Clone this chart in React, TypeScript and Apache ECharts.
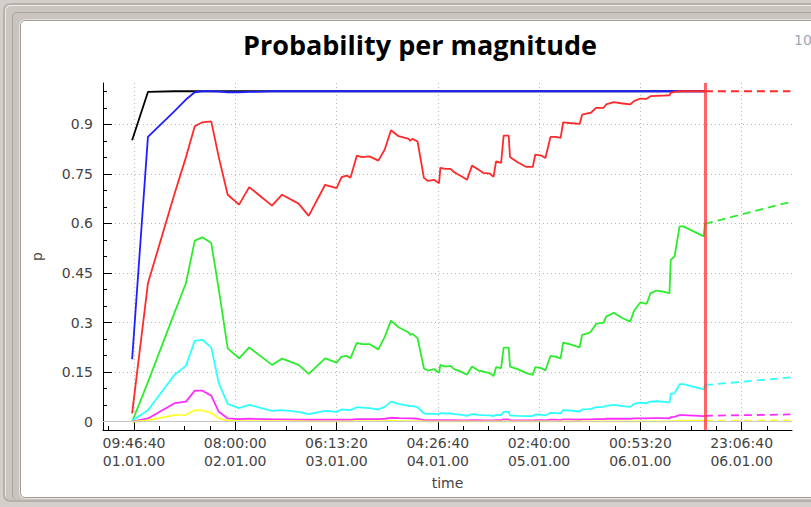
import React, { useEffect, useRef } from "react";
import * as echarts from "echarts";

// time in thousands of seconds after 09:46:40 01.01.00
const times = [
  -1.5, 11, 32, 41, 48, 54, 61, 67, 74, 83,
  91, 109, 117, 130, 138, 151, 160, 164, 168, 171,
  176, 180, 186, 193, 198, 203, 209, 217, 218, 220,
  224, 229, 232, 237, 241, 242, 246, 250, 253, 259,
  263, 267, 272, 276, 281, 284, 286, 290, 292, 296,
  297, 303, 310, 315, 317, 322, 325, 329, 333, 337,
  339, 344, 352, 354, 359, 361, 365, 371, 373, 379,
  386, 392, 395, 400, 405, 408, 413, 418, 423, 424,
  427, 431, 434, 450, 451,
];

const pBlack = [
  0.852, 0.998, 1, 1, 1, 1, 1, 1, 1, 1,
  1, 1, 1, 1, 1, 1, 1, 1, 1, 1,
  1, 1, 1, 1, 1, 1, 1, 1, 1, 1,
  1, 1, 1, 1, 1, 1, 1, 1, 1, 1,
  1, 1, 1, 1, 1, 1, 1, 1, 1, 1,
  1, 1, 1, 1, 1, 1, 1, 1, 1, 1,
  1, 1, 1, 1, 1, 1, 1, 1, 1, 1,
  1, 1, 1, 1, 1, 1, 1, 1, 1, 1,
  1, 1, 1, 1, 1,
];

const pBlue = [
  0.189, 0.862, 0.94, 0.975, 0.997, 1, 1, 0.999, 0.997, 0.997,
  0.998, 1, 1, 1, 1, 1, 1, 1, 1, 1,
  1, 1, 1, 1, 1, 1, 1, 1, 1, 1,
  1, 1, 1, 1, 1, 1, 1, 1, 1, 1,
  1, 1, 1, 1, 1, 1, 1, 1, 1, 1,
  1, 1, 1, 1, 1, 1, 1, 1, 1, 1,
  1, 1, 1, 1, 1, 1, 1, 1, 1, 1,
  1, 1, 1, 1, 1, 1, 1, 1, 1, 1,
  1, 1, 1, 1, 1,
];

const pRed = [
  0.025, 0.419, 0.69, 0.8, 0.894, 0.906, 0.909, 0.8, 0.687, 0.657,
  0.71, 0.654, 0.687, 0.66, 0.623, 0.717, 0.707, 0.74, 0.745, 0.738,
  0.805, 0.801, 0.803, 0.79, 0.823, 0.882, 0.864, 0.856, 0.85, 0.856,
  0.848, 0.738, 0.729, 0.732, 0.722, 0.768, 0.765, 0.765, 0.755, 0.742,
  0.732, 0.775, 0.763, 0.753, 0.751, 0.741, 0.788, 0.783, 0.866, 0.866,
  0.801, 0.785, 0.771, 0.771, 0.808, 0.805, 0.798, 0.862, 0.862, 0.859,
  0.906, 0.904, 0.901, 0.929, 0.934, 0.935, 0.95, 0.95, 0.96, 0.967,
  0.963, 0.96, 0.97, 0.978, 0.977, 0.985, 0.986, 0.987, 0.988, 0.995,
  0.998, 1, 1, 1, 1,
];

const pGreen = [
  0, 0.12, 0.33, 0.419, 0.548, 0.558, 0.541, 0.4, 0.222, 0.192,
  0.225, 0.172, 0.191, 0.172, 0.145, 0.192, 0.179, 0.197, 0.199, 0.192,
  0.239, 0.235, 0.235, 0.219, 0.256, 0.306, 0.286, 0.27, 0.263, 0.266,
  0.253, 0.162, 0.155, 0.159, 0.148, 0.172, 0.167, 0.169, 0.159, 0.15,
  0.142, 0.167, 0.155, 0.152, 0.147, 0.138, 0.165, 0.162, 0.224, 0.224,
  0.167, 0.159, 0.147, 0.142, 0.165, 0.162, 0.155, 0.199, 0.197, 0.192,
  0.239, 0.235, 0.225, 0.263, 0.268, 0.273, 0.296, 0.3, 0.318, 0.33,
  0.313, 0.303, 0.336, 0.361, 0.357, 0.389, 0.397, 0.394, 0.389, 0.49,
  0.5, 0.591, 0.591, 0.561, 0.599,
];

const pCyan = [
  0.003, 0.035, 0.142, 0.169, 0.245, 0.248, 0.225, 0.116, 0.054, 0.041,
  0.051, 0.033, 0.035, 0.03, 0.023, 0.033, 0.03, 0.037, 0.036, 0.035,
  0.044, 0.043, 0.041, 0.037, 0.045, 0.061, 0.054, 0.048, 0.047, 0.047,
  0.044, 0.025, 0.024, 0.024, 0.023, 0.026, 0.025, 0.025, 0.023, 0.021,
  0.018, 0.023, 0.021, 0.02, 0.019, 0.017, 0.021, 0.02, 0.03, 0.03,
  0.019, 0.018, 0.017, 0.017, 0.022, 0.021, 0.019, 0.027, 0.026, 0.025,
  0.035, 0.034, 0.031, 0.037, 0.038, 0.039, 0.044, 0.045, 0.048, 0.051,
  0.047, 0.045, 0.054, 0.058, 0.056, 0.061, 0.062, 0.061, 0.058, 0.084,
  0.086, 0.114, 0.114, 0.098, 0.111,
];

const pMagenta = [
  0, 0.01, 0.056, 0.061, 0.094, 0.094, 0.079, 0.03, 0.01, 0.008,
  0.009, 0.007, 0.007, 0.006, 0.006, 0.006, 0.006, 0.006, 0.006, 0.006,
  0.008, 0.008, 0.008, 0.008, 0.009, 0.012, 0.011, 0.01, 0.01, 0.01,
  0.009, 0.005, 0.005, 0.005, 0.005, 0.005, 0.005, 0.005, 0.005, 0.004,
  0.004, 0.005, 0.005, 0.004, 0.004, 0.004, 0.005, 0.005, 0.007, 0.007,
  0.004, 0.004, 0.004, 0.004, 0.005, 0.005, 0.004, 0.006, 0.006, 0.005,
  0.007, 0.007, 0.006, 0.007, 0.007, 0.007, 0.008, 0.008, 0.009, 0.009,
  0.009, 0.009, 0.01, 0.01, 0.01, 0.011, 0.011, 0.011, 0.01, 0.014,
  0.015, 0.02, 0.02, 0.017, 0.018,
];

const pYellow = [
  0, 0.004, 0.02, 0.021, 0.035, 0.034, 0.027, 0.01, 0.003, 0.002,
  0.002, 0.002, 0.002, 0.002, 0.001, 0.001, 0.001, 0.001, 0.001, 0.001,
  0.002, 0.002, 0.002, 0.002, 0.002, 0.003, 0.002, 0.002, 0.002, 0.002,
  0.002, 0.001, 0.001, 0.001, 0.001, 0.001, 0.001, 0.001, 0.001, 0.001,
  0.001, 0.001, 0.001, 0.001, 0.001, 0.001, 0.001, 0.001, 0.001, 0.001,
  0.001, 0.001, 0.001, 0.001, 0.001, 0.001, 0.001, 0.001, 0.001, 0.001,
  0.001, 0.001, 0.001, 0.001, 0.001, 0.001, 0.001, 0.001, 0.001, 0.001,
  0.001, 0.001, 0.001, 0.001, 0.001, 0.001, 0.001, 0.001, 0.001, 0.002,
  0.002, 0.003, 0.003, 0.003, 0.003,
];

// extrapolation after "now" (black and blue stay at 1, hidden under red)
const forecastTimes = [451, 518.5];
const fRed = [1, 1];
const fGreen = [0.599, 0.665];
const fCyan = [0.111, 0.134];
const fMagenta = [0.018, 0.022];
const fYellow = [0.003, 0.004];

const nowTime = 451;

const xMajorTicks = [0, 80, 160, 240, 320, 400, 480];
const xMinorTicks = [-20, 0, 20, 40, 60, 80, 100, 120, 140, 160, 180, 200, 220, 240, 260, 280, 300, 320, 340, 360, 380, 400, 420, 440, 460, 480, 500];
const yMajorTicks = [0, 0.15, 0.3, 0.45, 0.6, 0.75, 0.9];
const yMinorTicks = [0, 0.05, 0.1, 0.15, 0.2, 0.25, 0.3, 0.35, 0.4, 0.45, 0.5, 0.55, 0.6, 0.65, 0.7, 0.75, 0.8, 0.85, 0.9, 0.95, 1.0];

const startClockSeconds = 35200; // 09:46:40

const seriesDefs = [
  { name: "black", color: "#000000", values: pBlack, forecast: null as number[] | null },
  { name: "blue", color: "#2020ff", values: pBlue, forecast: null as number[] | null },
  { name: "red", color: "#ff2a2a", values: pRed, forecast: fRed },
  { name: "green", color: "#2ced2c", values: pGreen, forecast: fGreen },
  { name: "cyan", color: "#2effff", values: pCyan, forecast: fCyan },
  { name: "magenta", color: "#ff2eff", values: pMagenta, forecast: fMagenta },
  { name: "yellow", color: "#ffff2e", values: pYellow, forecast: fYellow },
];

const pad = (n: number) => String(n).padStart(2, "0");
const fmtTime = (v: number) => {
  const s = Math.round(v * 1000) + startClockSeconds;
  const day = Math.floor(s / 86400) + 1;
  const r = s % 86400;
  const hh = Math.floor(r / 3600);
  const mm = Math.floor((r % 3600) / 60);
  const ss = r % 60;
  return `${pad(hh)}:${pad(mm)}:${pad(ss)}\n${pad(day)}.01.00`;
};

const FONT = "DejaVu Sans";
const LABEL_COLOR = "#444444";
const X_MIN = -24.5;
const X_MAX = 519.8;
const Y_MIN = -0.025;
const Y_MAX = 1.025;

export default function App() {
  const ref = useRef<HTMLDivElement>(null);
  useEffect(() => {
    if (!ref.current) return;
    const chart = echarts.init(ref.current, undefined, { renderer: "svg" });
    const solid = seriesDefs.map((d, idx) => ({
      type: "line",
      name: d.name,
      xAxisIndex: 0,
      yAxisIndex: 0,
      data: times.map((t, i) => [t, d.values[i]]),
      showSymbol: false,
      symbol: "none",
      lineStyle: { color: d.color, width: 1.8 },
      itemStyle: { color: d.color },
      z: 3,
      ...(idx === 0
        ? {
            markLine: {
              silent: true,
              symbol: ["none", "none"],
              label: { show: false },
              lineStyle: { color: "#c8c8c8", width: 1, type: "solid" },
              data: [{ yAxis: 0 }],
            },
          }
        : {}),
    }));
    const dashed = seriesDefs
      .filter((d) => d.forecast)
      .map((d) => ({
        type: "line",
        name: d.name + "-forecast",
        xAxisIndex: 0,
        yAxisIndex: 0,
        data: forecastTimes.map((t, i) => [t, (d.forecast as number[])[i]]),
        showSymbol: false,
        symbol: "none",
        lineStyle: { color: d.color, width: 1.8, type: [8, 5] },
        z: 3,
      }));
    const nowLine = {
      type: "line",
      name: "now",
      data: [],
      markLine: {
        silent: true,
        symbol: ["none", "none"],
        label: { show: false },
        lineStyle: { color: "rgba(255,50,50,0.75)", width: 3, type: "solid" },
        data: [{ xAxis: nowTime }],
      },
      z: 4,
    };

    chart.setOption({
      animation: false,
      backgroundColor: "transparent",
      graphic: [
        {
          type: "text",
          x: 420,
          y: 44,
          style: {
            text: "Probability per magnitude",
            font: "bold 27px 'Open Sans'",
            fill: "#000",
            align: "center",
            verticalAlign: "middle",
          },
        },
        {
          type: "text",
          x: 794,
          y: 40,
          style: {
            text: "10",
            font: "14px 'DejaVu Sans'",
            fill: "#9ea7b6",
            align: "left",
            verticalAlign: "middle",
          },
        },
      ],
      grid: { left: 103, right: 19, top: 83, bottom: 77, containLabel: false },
      xAxis: [
        {
          type: "value",
          min: X_MIN,
          max: X_MAX,
          position: "bottom",
          name: "time",
          nameLocation: "middle",
          nameGap: 46,
          nameTextStyle: { color: LABEL_COLOR, fontFamily: FONT, fontSize: 14 },
          axisLine: { show: true, onZero: false, lineStyle: { color: "#000", width: 1 } },
          axisTick: { show: true, inside: true, length: 9, customValues: xMajorTicks, lineStyle: { color: "#000" } },
          axisLabel: {
            customValues: xMajorTicks,
            formatter: fmtTime,
            color: LABEL_COLOR,
            fontFamily: FONT,
            fontSize: 14,
            lineHeight: 18,
            margin: 4,
          },
          splitLine: { show: true, lineStyle: { color: "#b8b8b8", type: [1, 3], width: 1 } },
        },
        {
          type: "value",
          min: X_MIN,
          max: X_MAX,
          position: "bottom",
          axisLine: { show: false, onZero: false },
          axisTick: { show: true, inside: true, length: 4, customValues: xMinorTicks, lineStyle: { color: "#000" } },
          axisLabel: { show: false },
          splitLine: { show: false },
        },
      ],
      yAxis: [
        {
          type: "value",
          min: Y_MIN,
          max: Y_MAX,
          position: "left",
          name: "p",
          nameLocation: "middle",
          nameGap: 59,
          nameRotate: 90,
          nameTextStyle: { color: LABEL_COLOR, fontFamily: FONT, fontSize: 14 },
          axisLine: { show: true, onZero: false, lineStyle: { color: "#000", width: 1 } },
          axisTick: { show: true, inside: true, length: 9, customValues: yMajorTicks, lineStyle: { color: "#000" } },
          axisLabel: {
            customValues: yMajorTicks,
            formatter: (v: number) => String(+v.toFixed(2)),
            color: LABEL_COLOR,
            fontFamily: FONT,
            fontSize: 14,
            margin: 10,
          },
          splitLine: { show: true, lineStyle: { color: "#b8b8b8", type: [1, 3], width: 1 } },
        },
        {
          type: "value",
          min: Y_MIN,
          max: Y_MAX,
          position: "left",
          axisLine: { show: false, onZero: false },
          axisTick: { show: true, inside: true, length: 4, customValues: yMinorTicks, lineStyle: { color: "#000" } },
          axisLabel: { show: false },
          splitLine: { show: false },
        },
      ],
      series: [...solid, ...dashed, nowLine],
    });
    return () => chart.dispose();
  }, []);

  return (
    <div
      style={{
        position: "fixed",
        left: 0,
        top: 0,
        width: 811,
        height: 507,
        background: "#d3cfcb",
        overflow: "hidden",
      }}
    >
      <div
        style={{
          position: "absolute",
          left: 3,
          top: 3,
          width: 900,
          height: 499,
          boxSizing: "border-box",
          border: "2px solid #b7b1ab",
          borderRadius: 7,
          background: "#cbc6c1",
          boxShadow: "inset 1px 1px 0 #ece9e6",
        }}
      />
      <div
        style={{
          position: "absolute",
          left: 12,
          top: 12,
          width: 900,
          height: 488,
          boxSizing: "border-box",
          borderLeft: "1px solid #a9a39d",
          borderTop: "1px solid #a9a39d",
          borderRadius: 5,
          background: "#c9c4bf",
        }}
      />
      <div
        style={{
          position: "absolute",
          left: 20,
          top: 20,
          width: 900,
          height: 478,
          boxSizing: "border-box",
          border: "1px solid #a29c96",
          borderRadius: 5,
          background: "#ffffff",
          boxShadow: "0 0 0 1px #e6e2de",
        }}
      />
      <div ref={ref} style={{ position: "absolute", left: 0, top: 0, width: 811, height: 507 }} />
    </div>
  );
}
